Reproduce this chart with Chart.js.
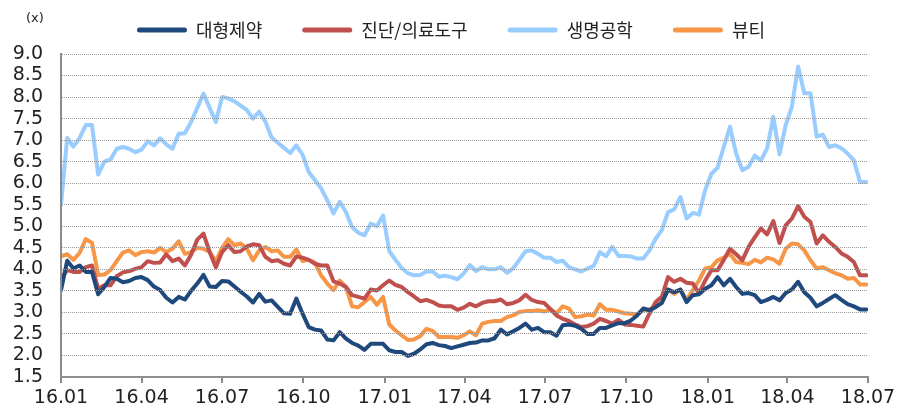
<!DOCTYPE html>
<html><head><meta charset="utf-8">
<script src="https://cdn.jsdelivr.net/npm/chart.js@4.4.1/dist/chart.umd.min.js"></script>
<style>html,body{margin:0;padding:0;background:#fff;}#wrap{width:904px;height:414px;}canvas{display:block;}</style>
</head><body><div id="wrap"></div>
<script>
const seriesNames = ['대형제약', '진단/의료도구', '생명공학', '뷰티'];
const seriesColors = ['#1F497D', '#C0504D', '#99CCFF', '#F79646'];

const bigPharma = [
3.51,4.2,4.02,4.09,3.94,3.94,3.42,3.59,3.8,3.78,
3.7,3.73,3.8,3.82,3.75,3.6,3.52,3.34,3.23,3.36,
3.3,3.5,3.67,3.87,3.6,3.59,3.73,3.72,3.6,3.48,
3.37,3.23,3.43,3.25,3.28,3.13,2.98,2.97,3.32,2.97,
2.66,2.6,2.58,2.37,2.35,2.54,2.39,2.29,2.23,2.13,
2.27,2.27,2.27,2.12,2.08,2.08,1.99,2.04,2.14,2.26,
2.29,2.24,2.22,2.17,2.21,2.25,2.29,2.3,2.35,2.35,
2.4,2.6,2.49,2.56,2.64,2.74,2.6,2.64,2.54,2.54,
2.46,2.7,2.72,2.69,2.62,2.5,2.5,2.64,2.64,2.7,
2.75,2.75,2.81,2.93,3.09,3.05,3.12,3.22,3.53,3.47,
3.53,3.24,3.4,3.42,3.55,3.63,3.82,3.63,3.78,3.59,
3.43,3.45,3.4,3.24,3.29,3.36,3.28,3.45,3.53,3.71,
3.47,3.34,3.14,3.22,3.31,3.4,3.29,3.19,3.14,3.07,
3.07];

const diagnostics = [
3.78,3.98,3.94,3.94,4.05,4.09,3.55,3.63,3.63,3.84,
3.93,3.96,4.01,4.05,4.19,4.15,4.16,4.35,4.19,4.25,
4.09,4.34,4.69,4.83,4.4,4.05,4.4,4.56,4.4,4.42,
4.53,4.58,4.56,4.29,4.19,4.21,4.13,4.09,4.3,4.27,
4.22,4.13,4.09,4.09,3.72,3.67,3.59,3.4,3.36,3.32,
3.53,3.51,3.63,3.74,3.64,3.59,3.47,3.37,3.26,3.29,
3.24,3.16,3.14,3.14,3.06,3.11,3.2,3.14,3.22,3.26,
3.26,3.3,3.19,3.22,3.28,3.41,3.29,3.24,3.22,3.08,
2.93,2.85,2.8,2.72,2.66,2.68,2.74,2.85,2.8,2.74,
2.83,2.72,2.71,2.69,2.67,2.97,3.24,3.36,3.82,3.71,
3.78,3.69,3.67,3.45,3.74,3.98,3.98,4.22,4.48,4.35,
4.21,4.52,4.74,4.95,4.81,5.12,4.61,5.02,5.18,5.47,
5.22,5.1,4.6,4.79,4.64,4.52,4.37,4.29,4.17,3.86,
3.86];

const biotech = [
5.5,7.05,6.85,7.05,7.35,7.35,6.2,6.5,6.55,6.8,
6.84,6.8,6.72,6.78,6.97,6.88,7.04,6.9,6.8,7.15,
7.16,7.42,7.75,8.08,7.75,7.42,8.0,7.97,7.9,7.8,
7.7,7.5,7.66,7.43,7.06,6.94,6.82,6.7,6.88,6.66,
6.26,6.07,5.88,5.6,5.3,5.57,5.33,4.98,4.85,4.79,
5.06,5.0,5.25,4.42,4.22,4.03,3.91,3.86,3.87,3.95,
3.95,3.83,3.85,3.82,3.77,3.9,4.1,3.96,4.05,4.0,
4.0,4.05,3.92,4.02,4.22,4.42,4.44,4.36,4.27,4.27,
4.17,4.2,4.05,4.0,3.95,4.02,4.08,4.4,4.3,4.52,
4.31,4.31,4.3,4.25,4.25,4.44,4.71,4.91,5.33,5.39,
5.68,5.18,5.31,5.27,5.84,6.22,6.36,6.84,7.31,6.69,
6.3,6.38,6.64,6.53,6.81,7.54,6.67,7.35,7.78,8.71,
8.09,8.09,7.08,7.13,6.84,6.88,6.81,6.69,6.53,6.03,
6.03];

const beauty = [
4.3,4.35,4.22,4.38,4.7,4.62,3.87,3.88,3.98,4.19,
4.39,4.44,4.33,4.4,4.42,4.39,4.5,4.4,4.48,4.65,
4.36,4.4,4.5,4.48,4.4,4.19,4.5,4.7,4.56,4.6,
4.48,4.21,4.44,4.52,4.42,4.44,4.29,4.29,4.46,4.19,
4.22,4.15,3.86,3.67,3.52,3.74,3.59,3.14,3.12,3.24,
3.36,3.18,3.36,2.72,2.58,2.47,2.36,2.37,2.45,2.62,
2.57,2.43,2.43,2.43,2.41,2.47,2.56,2.47,2.74,2.78,
2.8,2.8,2.89,2.93,3.01,3.03,3.03,3.05,3.02,3.07,
2.98,3.14,3.09,2.89,2.91,2.95,2.93,3.19,3.06,3.06,
3.02,2.98,2.97,2.95,3.05,3.07,3.14,3.22,3.53,3.43,
3.53,3.29,3.51,3.74,4.02,4.05,4.21,4.27,4.36,4.17,
4.15,4.12,4.22,4.16,4.27,4.23,4.13,4.48,4.6,4.58,
4.44,4.21,4.02,4.05,3.98,3.91,3.86,3.78,3.8,3.65,
3.65];

const tickLabels = ['16.01','16.04','16.07','16.10','17.01','17.04','17.07','17.10','18.01','18.04','18.07'];
const tickDays = [0,91,182,274,366,456,547,639,731,821,912];
const yTickLabels = ['1.5','2.0','2.5','3.0','3.5','4.0','4.5','5.0','5.5','6.0','6.5','7.0','7.5','8.0','8.5','9.0'];
const allSeries = [bigPharma, diagnostics, biotech, beauty];
const weekDays = bigPharma.map((_, i) => i * 7);
const axisGrey = '#8c8c8c';

const c = document.createElement('canvas');
c.width = 904; c.height = 414;
document.getElementById('wrap').appendChild(c);

const unitPlugin = {
  id: 'unitLabel',
  afterDraw(chart) {
    const ctx = chart.ctx;
    ctx.save();
    ctx.font = '13px "DejaVu Sans"';
    ctx.fillStyle = '#222';
    ctx.fillText('(x)', 26, 19);
    ctx.restore();
  }
};

const legendPlace = {
  id: 'legendPlace',
  beforeLayout(chart) {
    const lg = chart.legend;
    if (lg && !lg._patched) {
      const fit = lg.fit;
      lg.fit = function () { fit.call(this); this.height = 54; };
      lg._patched = true;
    }
  },
  afterLayout(chart) {
    const lg = chart.legend;
    if (!lg) return;
    lg.top = -19; lg.bottom = 54;
    lg.left += 17; lg.right += 17;
  }
};

new Chart(c, {
  type: 'line',
  data: {
    datasets: seriesNames.map((name, k) => ({
      label: name,
      data: weekDays.map((d, i) => ({x: d, y: allSeries[k][i]})),
      borderColor: seriesColors[k],
      backgroundColor: seriesColors[k],
      borderWidth: 4,
      pointRadius: 0,
      fill: false,
      tension: 0,
      borderJoinStyle: 'round',
      borderCapStyle: 'round'
    }))
  },
  options: {
    responsive: false,
    animation: false,
    devicePixelRatio: 1,
    layout: {padding: {left: 0, right: 36, top: 0, bottom: 0}},
    plugins: {
      tooltip: {enabled: false},
      legend: {
        position: 'top',
        align: 'center',
        labels: {
          boxWidth: 50, boxHeight: 5, padding: 40, color: '#222',
          useBorderRadius: true, borderRadius: 2.5,
          font: {family: '"Noto Sans CJK KR"', size: 18},
          generateLabels(chart) {
            const items = Chart.defaults.plugins.legend.labels.generateLabels(chart);
            items.forEach(it => { it.lineWidth = 0; it.fillStyle = it.strokeStyle; it.borderRadius = 2.5; });
            return items;
          }
        }
      }
    },
    scales: {
      x: {
        type: 'linear', min: 0, max: 912,
        afterBuildTicks(s) { s.ticks = tickDays.map(v => ({value: v})); },
        afterFit(s) { s.height = 37; },
        ticks: {autoSkip: false, maxRotation: 0, minRotation: 0, padding: 4,
                font: {family: 'DejaVu Sans', size: 19}, color: '#222',
                callback: (v) => tickLabels[tickDays.indexOf(v)]},
        grid: {drawOnChartArea: false, drawTicks: true, tickLength: 6, color: axisGrey, lineWidth: 2, z: 1},
        border: {display: true, color: axisGrey, width: 2, z: 1}
      },
      y: {
        min: 1.5, max: 9,
        afterFit(s) { s.width = 61; },
        ticks: {autoSkip: false, stepSize: 0.5, padding: 18,
                font: {family: 'DejaVu Sans', size: 19}, color: '#222',
                callback: (v) => yTickLabels[Math.round((v - 1.5) * 2)]},
        grid: {color: '#999999', lineWidth: 1, drawTicks: false, z: 1},
        border: {display: true, color: axisGrey, width: 2, dash: [1, 1], z: 1}
      }
    }
  },
  plugins: [unitPlugin, legendPlace]
});
</script></body></html>
